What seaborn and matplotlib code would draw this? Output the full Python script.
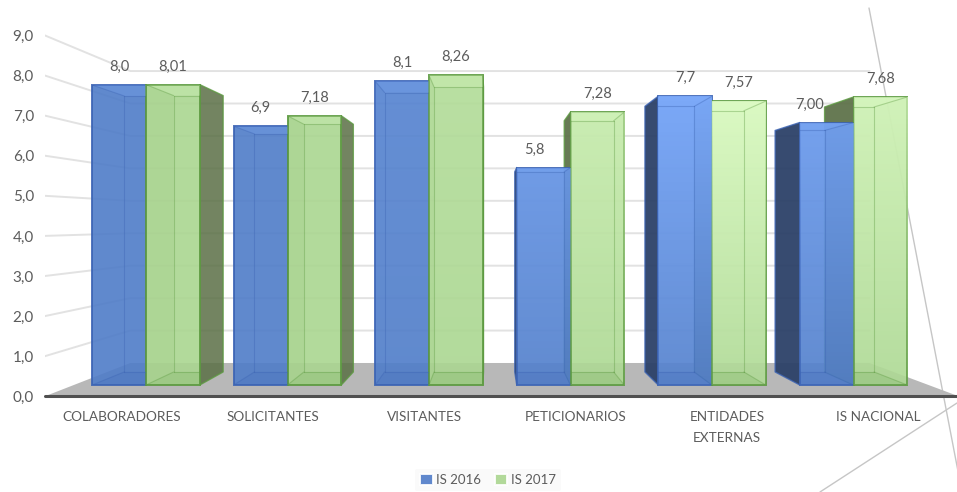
import matplotlib
matplotlib.use('Agg')
import matplotlib.pyplot as plt
from matplotlib.patches import Polygon
import numpy as np
import pandas as pd
import seaborn as sns
from matplotlib.colors import to_rgb

# Data
categorias = ['COLABORADORES', 'SOLICITANTES', 'VISITANTES', 'PETICIONARIOS', 'ENTIDADES\nEXTERNAS', 'IS NACIONAL']
is_2016 = [8.0, 6.9, 8.1, 5.8, 7.7, 7.0]
is_2017 = [8.01, 7.18, 8.26, 7.28, 7.57, 7.68]
etiquetas_2016 = ['8,0', '6,9', '8,1', '5,8', '7,7', '7,00']
etiquetas_2017 = ['8,01', '7,18', '8,26', '7,28', '7,57', '7,68']
ticks_y = [0, 1, 2, 3, 4, 5, 6, 7, 8, 9]

df = pd.DataFrame({
    'categoria': categorias * 2,
    'valor': is_2016 + is_2017,
    'serie': ['IS 2016'] * 6 + ['IS 2017'] * 6,
})

# pixel scale of the picture, used for the axes box and the fake perspective
SX, SY = 141.5, 37.5
X0, Y0 = 146, 385
CX, CY = (492 - X0) / SX, (Y0 - 222) / SY   # vanishing point
K_BAR, K_WALL, K_FRONT = 0.08, 0.135, -0.069


def proj(x, v, k):
    return x + k * (CX - x), v + k * (CY - v)


def px(x, y):
    return (x - X0) / SX, (Y0 - y) / SY


sns.set_theme(style='white')
plt.rcParams['font.family'] = ['Lato', 'DejaVu Sans']
GRIS = '#5c5c5c'

fig = plt.figure(figsize=(9.57, 4.92), dpi=100)
ax = fig.add_axes([45 / 957, 90 / 492, 912 / 957, 402 / 492])

colores = {'IS 2016': '#4f7cc8', 'IS 2017': '#aad690'}
bordes = {'IS 2016': '#3c64b4', 'IS 2017': '#5c9a40'}
lados = {'IS 2016': '#2c4168', 'IS 2017': '#5a6f45'}
claros = {'IS 2016': '#80aeff', 'IS 2017': '#e2ffca'}
brillo = [0.0, 0.0, 0.15, 0.5, 0.85, 0.65]

sns.barplot(data=df, x='categoria', y='valor', hue='serie', order=categorias, palette=colores,
            width=0.76, gap=0, saturation=1, alpha=0.9, ax=ax, zorder=5, linewidth=1.4)

# walls and floor
xl, xr = -0.51, 5.53
piso = [proj(xl, 0, K_FRONT), proj(xr, 0, K_FRONT), proj(xr, 0, K_WALL), proj(xl, 0, K_WALL)]
ax.add_patch(Polygon(piso, closed=True, fc='#b8b8b8', ec='none', zorder=1))
for t in ticks_y[1:]:
    pts = [proj(xl, t, K_FRONT), proj(xl, t, K_WALL), proj(xr, t, K_WALL)]
    ax.plot([p[0] for p in pts], [p[1] for p in pts], color='#e2e2e2', lw=1.4, zorder=0)
a, b = piso[0], piso[1]
ax.plot([a[0], b[0]], [a[1], b[1]], color='#505050', lw=2.2, zorder=2, clip_on=False)

# stray lines at the right of the picture
for p, q in [((869, 8), (962, 492)), ((957, 403), (820, 492))]:
    (x1, y1), (x2, y2) = px(*p), px(*q)
    ax.plot([x1, x2], [y1, y2], color='#c6c6c6', lw=1, zorder=0, clip_on=False)

# the 3d faces of each bar
for cont, serie, valores, etiquetas in zip(ax.containers, ['IS 2016', 'IS 2017'], [is_2016, is_2017],
                                           [etiquetas_2016, etiquetas_2017]):
    for i, (rect, v, txt) in enumerate(zip(cont, valores, etiquetas)):
        rect.set_edgecolor(bordes[serie])
        x0, x1 = rect.get_x(), rect.get_x() + rect.get_width()
        esq = {
            'a': (x0, 0), 'b': (x1, 0), 'c': (x1, v), 'd': (x0, v),
            'e': proj(x0, 0, K_BAR), 'f': proj(x1, 0, K_BAR), 'g': proj(x1, v, K_BAR), 'h': proj(x0, v, K_BAR),
        }
        externa_izq = x0 > CX
        externa_der = x1 < CX
        # outer side is dark, inner side only a soft shade
        if serie == 'IS 2017':
            alfa_izq = 0.92 if externa_izq else 0.28
            alfa_der = 0.85 if externa_der else 0.0
        else:
            alfa_izq = 0.95 if externa_izq else 0.0
            alfa_der = 0.0 if externa_der else 0.55
        ax.add_patch(Polygon([esq[k] for k in 'aehd'], closed=True, fc=lados[serie], ec='none',
                             alpha=alfa_izq, zorder=3))
        ax.add_patch(Polygon([esq[k] for k in 'bfgc'], closed=True, fc=lados[serie], ec='none',
                             alpha=alfa_der, zorder=3))
        # outer edges of the visible side
        if externa_izq and alfa_izq > 0:
            ax.plot(*zip(esq['a'], esq['e'], esq['h'], esq['d']), color=bordes[serie], lw=1, alpha=0.8, zorder=4)
        if externa_der and alfa_der > 0:
            ax.plot(*zip(esq['b'], esq['f'], esq['g'], esq['c']), color=bordes[serie], lw=1, alpha=0.8, zorder=4)

        # lighter towards the top on some groups
        if brillo[i] > 0:
            grad = np.ones((64, 2, 4))
            grad[:, :, :3] = to_rgb(claros[serie])
            grad[:, :, 3] = np.linspace(brillo[i], brillo[i] * 0.1, 64)[:, None]
            im = ax.imshow(grad, extent=(x0, x1, 0, v), aspect='auto', origin='upper', zorder=5.5)
            im.set_clip_path(rect)

        # faces seen through the front, so they stay inside it
        sup = Polygon([esq[k] for k in 'dcgh'], closed=True, fc=claros[serie], ec='none', alpha=0.22, zorder=6)
        inf = Polygon([esq[k] for k in 'abfe'], closed=True, fc=bordes[serie], ec='none', alpha=0.16, zorder=6)
        for cara in (sup, inf):
            ax.add_patch(cara)
            cara.set_clip_path(rect)
        for u, w in ['eh', 'fg', 'ef', 'hg', 'ae', 'bf', 'dh', 'cg']:
            linea, = ax.plot([esq[u][0], esq[w][0]], [esq[u][1], esq[w][1]], color=bordes[serie], lw=0.8,
                             alpha=0.38, zorder=6)
            linea.set_clip_path(rect)

        dx = 0
        if txt == '5,8':
            dx = -7
        if txt == '7,00':
            dx = -12
        ax.annotate(txt, (x0 + (x1 - x0) / 2, v), xytext=(dx, 13), textcoords='offset points',
                    ha='center', va='center', fontsize=10.5, color=GRIS, zorder=8)

# axes, labels
x_ticks = [proj(i, 0, K_FRONT)[0] for i in range(len(categorias))]
y_ticks = [proj(0, t, K_FRONT)[1] for t in ticks_y]
ax.set_xticks(x_ticks)
ax.set_xticklabels(categorias, fontsize=9.8, color=GRIS, linespacing=1.85)
ax.set_yticks(y_ticks)
ax.set_yticklabels([f'{t},0' for t in ticks_y], fontsize=11, color=GRIS)
ax.tick_params(axis='x', length=0, pad=6.5)
ax.tick_params(axis='y', length=0, pad=8)
ax.set_xlabel('')
ax.set_ylabel('')
ax.set_xlim(px(45, 0)[0], px(957, 0)[0])
ax.set_ylim(px(0, 402)[1], px(0, 0)[1])
ax.patch.set_alpha(0)
sns.despine(ax=ax, left=True, bottom=True)

sns.move_legend(ax, 'center', bbox_to_anchor=(488 / 957, 12 / 492), bbox_transform=fig.transFigure, ncol=2,
                frameon=True, facecolor='#fafafa', edgecolor='none', framealpha=1, title=None, fontsize=9.5,
                handlelength=0.95, handleheight=0.95, handletextpad=0.3, columnspacing=1.0, labelcolor=GRIS)

fig.savefig('out.png', dpi=100)
